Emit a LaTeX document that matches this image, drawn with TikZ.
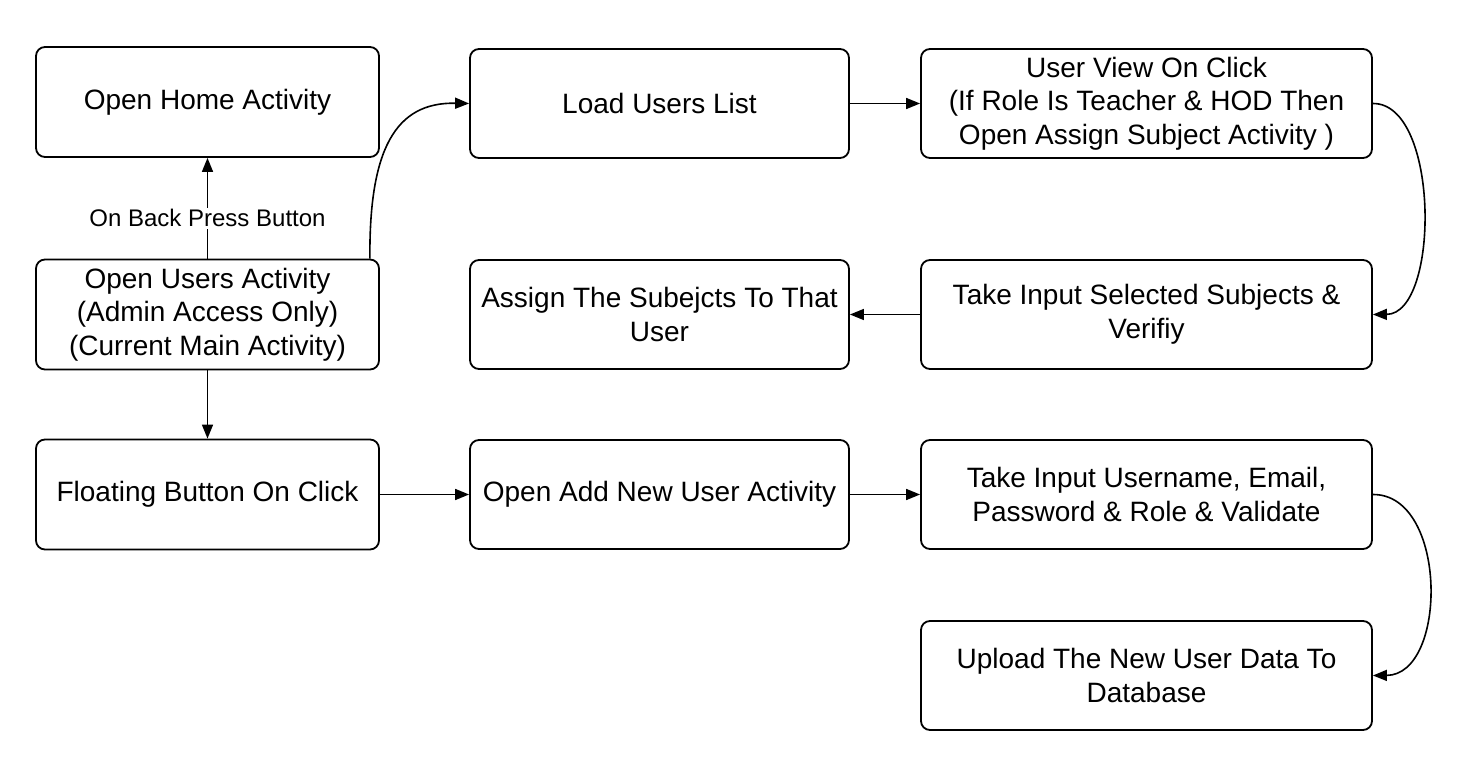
\documentclass[tikz,border=0pt]{standalone}
\usepackage{fontspec}
\setmainfont{Liberation Sans}
\usetikzlibrary{arrows.meta,calc}
\begin{document}
\begin{tikzpicture}[x=1pt,y=-1pt,
  box/.style={draw,line width=1.8pt,rounded corners=9pt,align=center,
    font=\fontsize{28}{33.5}\selectfont,inner sep=0pt},
  smallbox/.style={box,minimum width=343pt,minimum height=110pt},
  midbox/.style={box,minimum width=379pt,minimum height=109pt},
  bigbox/.style={box,minimum width=451pt,minimum height=109pt},
  conn/.style={line width=1.6pt,-{Triangle[length=14pt,width=11pt]}},
  lbl/.style={fill=white,font=\fontsize{24}{28}\selectfont,inner sep=2pt}]
\useasboundingbox (0,0) rectangle (1472,767);
\node[smallbox] (home) at (207.5,102) {Open Home Activity};
\node[smallbox] (users) at (207.5,314.5) {Open Users Activity\\(Admin Access Only)\\(Current Main Activity)};
\node[smallbox] (float) at (207.5,494.5) {Floating Button On Click};
\node[midbox] (load) at (659.5,103.5) {Load Users List};
\node[midbox] (assign) at (659.5,314.5) {Assign The Subejcts To That\\User};
\node[midbox] (addnew) at (659.5,494.5) {Open Add New User Activity};
\node[bigbox] (view) at (1146.5,103.5) {User View On Click\\(If Role Is Teacher \& HOD Then\\Open Assign Subject Activity )};
\node[bigbox] (takesel) at (1146.5,314.5) {Take Input Selected Subjects \&\\Verifiy};
\node[bigbox] (takein) at (1146.5,494.5) {Take Input Username, Email,\\Password \& Role \& Validate};
\node[bigbox] (upload) at (1146.5,675.5) {Upload The New User Data To\\Database};
% connectors
\draw[conn] (users.north) -- node[lbl,pos=0.4] {On Back Press Button} (home.south);
\draw[conn] ($(users.north east)+(-10,0)$) .. controls (369,150) and (395,102) .. (load.west);
\draw[conn] (load.east) -- (view.west);
\draw[conn] (view.east) .. controls (1440,103) and (1440,314) .. (takesel.east);
\draw[conn] (takesel.west) -- (assign.east);
\draw[conn] (users.south) -- (float.north);
\draw[conn] (float.east) -- (addnew.west);
\draw[conn] (addnew.east) -- (takein.west);
\draw[conn] (takein.east) .. controls (1448,494) and (1448,675) .. (upload.east);
\end{tikzpicture}
\end{document}
